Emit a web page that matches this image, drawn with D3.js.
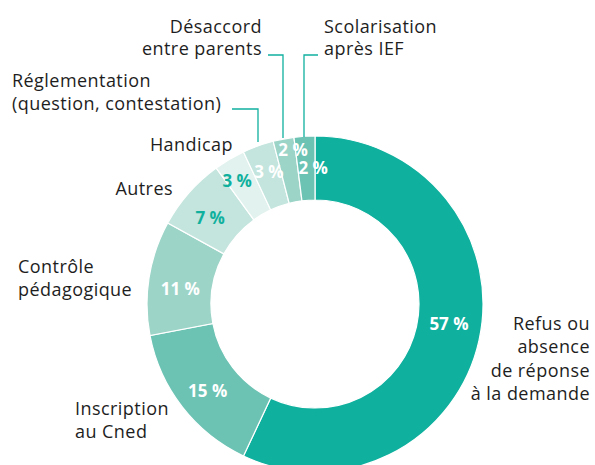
<!DOCTYPE html>
<html><head><meta charset="utf-8">
<script src="https://cdn.jsdelivr.net/npm/d3@7/dist/d3.min.js"></script>
<style>
html,body{margin:0;padding:0;background:#fff;}
svg{display:block;}
text{font-family:"Open Sans",Lato,sans-serif;}
</style></head>
<body>
<svg id="chart" width="595" height="465"></svg>
<script>
const categories = ["Refus ou absence de réponse à la demande","Inscription au Cned","Contrôle pédagogique","Autres","Handicap","Réglementation (question, contestation)","Désaccord entre parents","Scolarisation après IEF"];
const values = [57, 15, 11, 7, 3, 3, 2, 2];
const sliceColors = ["#10b09e","#6cc3b3","#9dd4c8","#c3e5dd","#e2f2ee","#c3e5dd","#9dd4c8","#6cc3b3"];
const labelColors = ["#fff","#fff","#fff","#10b09e","#10b09e","#fff","#fff","#fff"];

const svg = d3.select("#chart");
const cx = 315, cy = 304, R = 168, r = 104;
const g = svg.append("g").attr("transform", `translate(${cx},${cy})`);

const pie = d3.pie().sort(null).value(d => d)(values);
const arc = d3.arc().innerRadius(r).outerRadius(R);
g.selectAll("path.slice").data(pie).join("path")
  .attr("class","slice")
  .attr("d", arc)
  .attr("fill", (d,i) => sliceColors[i])
  .attr("stroke", "#fff").attr("stroke-width", 1.2);

// percent label placement (radius, angular nudge in radians)
const labelRadius = [135.5,138,135.5,135.5,146,140,155.5,136];
const labelAngleShift = [-0.07,-0.02,-0.047,-0.037,-0.028,0.01,0.047,0.049];
g.selectAll("text.pct").data(pie).join("text")
  .attr("class","pct")
  .attr("x", (d,i) => { const a=(d.startAngle+d.endAngle)/2+labelAngleShift[i]; return labelRadius[i]*Math.sin(a); })
  .attr("y", (d,i) => { const a=(d.startAngle+d.endAngle)/2+labelAngleShift[i]; return -labelRadius[i]*Math.cos(a); })
  .attr("dy","0.36em")
  .attr("text-anchor","middle")
  .attr("font-size", 17).attr("font-weight", 700)
  .attr("fill", (d,i) => labelColors[i])
  .text(d => d.value + "\u00A0%");

// category labels
const catLayout = [
  {lines:["Refus ou","absence","de réponse","à la demande"], x:590, y:330, anchor:"end", lh:23.3},
  {lines:["Inscription","au Cned"], x:75, y:415, anchor:"start", lh:22.5},
  {lines:["Contrôle","pédagogique"], x:18, y:273, anchor:"start", lh:22.5},
  {lines:["Autres"], x:173, y:195, anchor:"end", lh:22},
  {lines:["Handicap"], x:233, y:151, anchor:"end", lh:22},
  {lines:["Réglementation","(question, contestation)"], x:12, y:87, anchor:"start", lh:23},
  {lines:["Désaccord","entre parents"], x:262, y:32.5, anchor:"end", lh:22.2},
  {lines:["Scolarisation","après IEF"], x:324, y:32.5, anchor:"start", lh:22.2}
];
catLayout.forEach((c,i) => {
  const t = svg.append("text").attr("font-size",18).attr("letter-spacing",0.45).attr("fill","#1e1e1e")
    .attr("text-anchor", c.anchor);
  c.lines.forEach((ln,j) => t.append("tspan").attr("x", c.x).attr("y", c.y + j*c.lh).text(ln));
});

// leader lines
const leaders = [
  [[232,109],[258,109],[258,142]],
  [[268,55],[283,55],[283,138]],
  [[318,55],[304,55],[304,137]]
];
svg.selectAll("path.leader").data(leaders).join("path")
  .attr("class","leader")
  .attr("d", d => d3.line()(d))
  .attr("fill","none").attr("stroke","#10b09e").attr("stroke-width",1.3);
</script>
</body></html>
